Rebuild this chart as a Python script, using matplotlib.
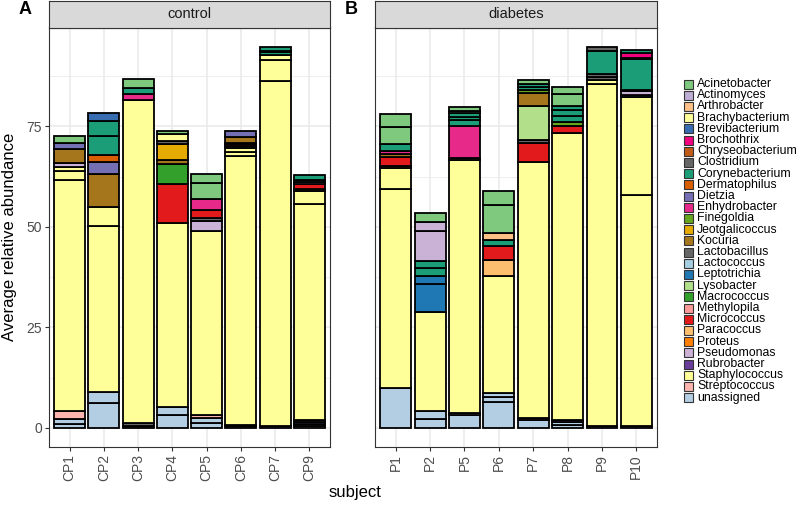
import matplotlib
matplotlib.use('Agg')
import matplotlib.pyplot as plt
from matplotlib.patches import Rectangle

plt.rcParams['font.family'] = ['Liberation Sans', 'DejaVu Sans']

# generos e cores (paletas qualitativas)
genera = ['Acinetobacter', 'Actinomyces', 'Arthrobacter', 'Brachybacterium',
          'Brevibacterium', 'Brochothrix', 'Chryseobacterium', 'Clostridium',
          'Corynebacterium', 'Dermatophilus', 'Dietzia', 'Enhydrobacter',
          'Finegoldia', 'Jeotgalicoccus', 'Kocuria', 'Lactobacillus',
          'Lactococcus', 'Leptotrichia', 'Lysobacter', 'Macrococcus',
          'Methylopila', 'Micrococcus', 'Paracoccus', 'Proteus', 'Pseudomonas',
          'Rubrobacter', 'Staphylococcus', 'Streptococcus', 'unassigned']
palette = ['#7FC97F', '#BEAED4', '#FDC086', '#FFFF99', '#386CB0', '#F0027F',
           '#BF5B17', '#666666', '#1B9E77', '#D95F02', '#7570B3', '#E7298A',
           '#66A61E', '#E6AB02', '#A6761D', '#666666', '#A6CEE3', '#1F78B4',
           '#B2DF8A', '#33A02C', '#FB9A99', '#E31A1C', '#FDBF6F', '#FF7F00',
           '#CAB2D6', '#6A3D9A', '#FFFF99', '#FBB4AE', '#B3CDE3']
cores = dict(zip(genera, palette))

control_subjects = ['CP1', 'CP2', 'CP3', 'CP4', 'CP5', 'CP6', 'CP7', 'CP9']
diabetes_subjects = ['P1', 'P2', 'P5', 'P6', 'P7', 'P8', 'P9', 'P10']

# segmentos empilhados de baixo para cima: (genero, abundancia)
CP1 = [('unassigned', 1.0), ('unassigned', 1.1), ('Streptococcus', 2.2),
       ('Staphylococcus', 57.4), ('Staphylococcus', 2.1), ('Brachybacterium', 1.0),
       ('Pseudomonas', 1.0), ('Kocuria', 3.6), ('Dietzia', 1.5), ('Acinetobacter', 1.7)]
CP2 = [('unassigned', 6.3), ('unassigned', 2.6), ('Staphylococcus', 41.3),
       ('Staphylococcus', 4.7), ('Kocuria', 8.3), ('Dietzia', 2.8),
       ('Dermatophilus', 1.9), ('Corynebacterium', 4.7), ('Corynebacterium', 3.6),
       ('Brevibacterium', 2.1)]
CP3 = [('Lactobacillus', 0.6), ('Clostridium', 0.6), ('Staphylococcus', 80.2),
       ('Enhydrobacter', 1.7), ('Corynebacterium', 1.4), ('Acinetobacter', 2.2)]
CP4 = [('unassigned', 3.2), ('unassigned', 1.9), ('Staphylococcus', 45.8),
       ('Micrococcus', 9.8), ('Macrococcus', 4.9), ('Kocuria', 1.0),
       ('Jeotgalicoccus', 4.0), ('Clostridium', 0.8), ('Brachybacterium', 1.7),
       ('Acinetobacter', 0.6)]
CP5 = [('unassigned', 1.2), ('unassigned', 1.2), ('Streptococcus', 0.8),
       ('Staphylococcus', 45.7), ('Pseudomonas', 2.5), ('Clostridium', 0.8),
       ('Micrococcus', 1.9), ('Enhydrobacter', 2.8), ('Acinetobacter', 4.0),
       ('Acinetobacter', 2.3)]
CP6 = [('Lactobacillus', 0.4), ('unassigned', 0.4), ('Staphylococcus', 66.8),
       ('Staphylococcus', 1.0), ('Brachybacterium', 1.0), ('Clostridium', 0.5),
       ('Micrococcus', 0.4), ('Clostridium', 0.4), ('Kocuria', 1.4), ('Dietzia', 1.4)]
CP7 = [('Lactobacillus', 0.4), ('Staphylococcus', 85.8), ('Staphylococcus', 5.2),
       ('Brachybacterium', 1.2), ('Corynebacterium', 0.8), ('Clostridium', 0.3),
       ('Corynebacterium', 0.9)]
CP9 = [('unassigned', 0.5), ('Clostridium', 0.5), ('unassigned', 0.5),
       ('Lactobacillus', 0.5), ('Staphylococcus', 53.7), ('Staphylococcus', 3.2),
       ('Clostridium', 0.5), ('Micrococcus', 1.2), ('Pseudomonas', 0.5),
       ('Clostridium', 0.5), ('Corynebacterium', 1.3)]

P1 = [('unassigned', 10.0), ('Staphylococcus', 49.3), ('Staphylococcus', 5.3),
      ('Chryseobacterium', 0.5), ('Micrococcus', 2.2), ('Kocuria', 0.8),
      ('Enhydrobacter', 0.8), ('Corynebacterium', 1.6), ('Acinetobacter', 4.3),
      ('Acinetobacter', 3.3)]
P2 = [('unassigned', 2.2), ('unassigned', 1.9), ('Staphylococcus', 24.6),
      ('Leptotrichia', 7.1), ('Leptotrichia', 2.0), ('Corynebacterium', 1.9),
      ('Corynebacterium', 1.7), ('Pseudomonas', 7.5), ('Pseudomonas', 2.2),
      ('Acinetobacter', 2.3)]
P5 = [('unassigned', 3.1), ('unassigned', 0.6), ('Staphylococcus', 63.0),
      ('Clostridium', 0.5), ('Enhydrobacter', 7.8), ('Corynebacterium', 1.6),
      ('Corynebacterium', 0.8), ('Corynebacterium', 0.8), ('Acinetobacter', 0.6),
      ('Acinetobacter', 0.9)]
P6 = [('unassigned', 6.4), ('unassigned', 1.3), ('unassigned', 1.0),
      ('Staphylococcus', 29.0), ('Paracoccus', 4.1), ('Micrococcus', 3.5),
      ('Corynebacterium', 1.4), ('Arthrobacter', 1.8), ('Acinetobacter', 6.8),
      ('Acinetobacter', 3.5)]
P7 = [('unassigned', 1.9), ('Clostridium', 0.5), ('Staphylococcus', 63.7),
      ('Micrococcus', 4.7), ('Clostridium', 0.8), ('Lysobacter', 8.4),
      ('Kocuria', 3.3), ('Finegoldia', 0.6), ('Corynebacterium', 0.8),
      ('Corynebacterium', 0.9), ('Acinetobacter', 0.8)]
P8 = [('unassigned', 0.8), ('unassigned', 0.7), ('Clostridium', 0.4),
      ('Staphylococcus', 71.3), ('Micrococcus', 1.9), ('Finegoldia', 0.9),
      ('Corynebacterium', 1.6), ('Corynebacterium', 1.5), ('Corynebacterium', 1.0),
      ('Acinetobacter', 3.0), ('Acinetobacter', 1.7)]
P9 = [('Lactobacillus', 0.5), ('Staphylococcus', 85.1), ('Brachybacterium', 0.9),
      ('Clostridium', 0.7), ('Lactobacillus', 0.7), ('Corynebacterium', 5.9),
      ('Clostridium', 1.0)]
P10 = [('Lactobacillus', 0.4), ('Staphylococcus', 57.6), ('Staphylococcus', 24.3),
       ('Clostridium', 0.5), ('Pseudomonas', 0.9), ('Clostridium', 0.4),
       ('Corynebacterium', 7.5), ('Clostridium', 0.3), ('Brochothrix', 1.3),
       ('Corynebacterium', 0.7)]

control = [CP1, CP2, CP3, CP4, CP5, CP6, CP7, CP9]
diabetes = [P1, P2, P5, P6, P7, P8, P9, P10]

W, H = 800, 507
fig = plt.figure(figsize=(W / 100, H / 100), dpi=100)

ymax = max(sum(v for g, v in s) for s in control + diabetes)
ylo, yhi = -0.05 * ymax, 1.05 * ymax

bottom_px, top_px = 447, 27.5
strip_top = 1.5


def painel(left_px, right_px, subjects, stacks, titulo, yticks=True):
    ax = fig.add_axes([left_px / W, 1 - bottom_px / H, (right_px - left_px) / W,
                       (bottom_px - top_px) / H])
    # grade
    for y in [12.5, 37.5, 62.5, 87.5]:
        ax.axhline(y, color='#EBEBEB', lw=0.6, zorder=0)
    for y in [0, 25, 50, 75]:
        ax.axhline(y, color='#EBEBEB', lw=1.2, zorder=0)
    for i in range(len(subjects)):
        ax.axvline(i, color='#EBEBEB', lw=1.2, zorder=0)
    for i, segs in enumerate(stacks):
        base = 0
        for g, v in segs:
            ax.bar(i, v, bottom=base, width=0.9, color=cores[g],
                   edgecolor='black', linewidth=1.3, zorder=2)
            base += v
    ax.set_xlim(-0.6, len(subjects) - 0.4)
    ax.set_ylim(ylo, yhi)
    ax.set_xticks(range(len(subjects)))
    ax.set_xticklabels(subjects, rotation=90, fontsize=10, color='#4D4D4D')
    ax.set_yticks([0, 25, 50, 75])
    if yticks:
        ax.set_yticklabels(['0', '25', '50', '75'], fontsize=10, color='#4D4D4D')
        ax.tick_params(axis='y', length=3, width=0.8, color='#333333', pad=2)
    else:
        ax.set_yticklabels([])
        ax.tick_params(axis='y', length=0)
    ax.tick_params(axis='x', length=3, width=0.8, color='#333333', pad=2)
    for s in ax.spines.values():
        s.set_color('#333333')
        s.set_linewidth(0.8)
    # faixa do facet
    st = fig.add_axes([left_px / W, 1 - top_px / H, (right_px - left_px) / W,
                       (top_px - strip_top) / H])
    st.set_facecolor('#D9D9D9')
    st.set_xticks([])
    st.set_yticks([])
    for s in st.spines.values():
        s.set_color('#333333')
        s.set_linewidth(0.8)
    st.text(0.5, 0.5, titulo, ha='center', va='center', fontsize=10.5,
            color='#1A1A1A', transform=st.transAxes)
    return ax


painel(49, 330, control_subjects, control, 'control')
painel(375, 657, diabetes_subjects, diabetes, 'diabetes', yticks=False)

fig.text(25 / W, 1 - 10 / H, 'A', fontsize=13, fontweight='bold', ha='center', va='center')
fig.text(351 / W, 1 - 10 / H, 'B', fontsize=13, fontweight='bold', ha='center', va='center')
fig.text(10 / W, 1 - 237 / H, 'Average relative abundance', rotation=90,
         fontsize=12, ha='center', va='center')
fig.text(355 / W, 1 - 493 / H, 'subject', fontsize=12, ha='center', va='center')

# legenda
y0, dy = 84, 11.2
for i, g in enumerate(genera):
    yc = y0 + i * dy
    fig.add_artist(Rectangle((684 / W, 1 - (yc + 4.5) / H), 9 / W, 9 / H,
                             facecolor=cores[g], edgecolor='#333333', lw=0.8,
                             transform=fig.transFigure))
    fig.text(697 / W, 1 - yc / H, g, fontsize=8.8, va='center', ha='left')

fig.savefig('out.png', dpi=100)
